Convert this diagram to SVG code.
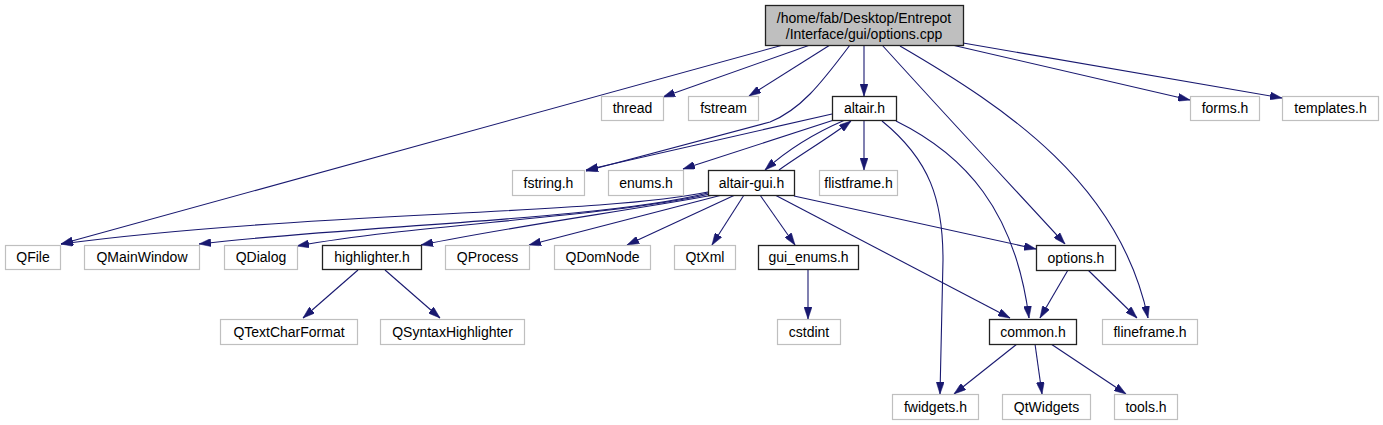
<svg xmlns="http://www.w3.org/2000/svg" width="1383" height="425" viewBox="0 0 1383 425">
<defs>
<marker id="ah" viewBox="0 0 12 8" refX="12" refY="4" markerWidth="12" markerHeight="8" markerUnits="userSpaceOnUse" orient="auto">
<path d="M0,0 L12,4 L0,8 z" fill="#191970" stroke="#191970" stroke-width="0.5"/>
</marker>
<style>
.e{fill:none;stroke:#191970;stroke-width:1.1;marker-end:url(#ah)}
.ext rect{fill:#fff;stroke:#bfbfbf;stroke-width:1.2}
.int rect{fill:#fff;stroke:#222;stroke-width:1.3}
.root rect{fill:#bfbfbf;stroke:#222;stroke-width:1.3}
text{font-family:"Liberation Sans",Arial,sans-serif;font-size:14px;fill:#000;text-anchor:middle}
</style>
</defs>
<rect width="1383" height="425" fill="#fff"/>
<g id="connectors">
<path class="e" d="M783,45 L61,244"/>
<path class="e" d="M810,45 L663,97"/>
<path class="e" d="M830,45 L749,96"/>
<path class="e" d="M850,45 C820,85 800,110 770,122 L586,171"/>
<path class="e" d="M864,45 L864,96"/>
<path class="e" d="M882,45 C950,120 1020,195 1065,244"/>
<path class="e" d="M900,46 C1010,110 1120,185 1148,318"/>
<path class="e" d="M952,45 L1190,100"/>
<path class="e" d="M963,43 L1282,98"/>
<path class="e" d="M832,114 L586,170"/>
<path class="e" d="M834,120 L683,169"/>
<path class="e" d="M845,120 C810,135 785,152 765,170"/>
<path class="e" d="M779,170 C800,155 830,137 851,121"/>
<path class="e" d="M864,120 L864,170"/>
<path class="e" d="M882,121 C930,160 943,200 943,260 L940,394"/>
<path class="e" d="M896,121 C965,155 1015,210 1029,318"/>
<path class="e" d="M708,192 C600,215 300,212 61,244"/>
<path class="e" d="M708,193 C600,220 350,226 199,244"/>
<path class="e" d="M710,194 C600,218 420,224 297,246"/>
<path class="e" d="M714,195 C620,212 520,225 421,245"/>
<path class="e" d="M722,195 L529,245"/>
<path class="e" d="M735,195 L627,245"/>
<path class="e" d="M744,195 L712,245"/>
<path class="e" d="M760,195 L795,245"/>
<path class="e" d="M794,196 L1036,249"/>
<path class="e" d="M775,195 L1010,318"/>
<path class="e" d="M358,270 L303,318"/>
<path class="e" d="M385,270 L440,318"/>
<path class="e" d="M808,270 L808,319"/>
<path class="e" d="M1068,270 L1040,318"/>
<path class="e" d="M1088,270 L1137,318"/>
<path class="e" d="M1017,344 L954,394"/>
<path class="e" d="M1035,344 L1042,394"/>
<path class="e" d="M1051,344 L1126,394"/>
</g>
<g id="n_root" class="root"><rect x="765.5" y="5.5" width="198" height="40"/><text x="864" y="22.5">/home/fab/Desktop/Entrepot</text><text x="864" y="38.5">/Interface/gui/options.cpp</text></g>
<g id="n_thread" class="ext"><rect x="601.5" y="96.5" width="62" height="24"/><text x="632.5" y="113">thread</text></g>
<g id="n_fstream" class="ext"><rect x="688.5" y="96.5" width="70" height="24"/><text x="723.5" y="113">fstream</text></g>
<g id="n_altair" class="int"><rect x="832.5" y="96.5" width="64" height="24"/><text x="864.5" y="113">altair.h</text></g>
<g id="n_forms" class="ext"><rect x="1190.5" y="96.5" width="69" height="24"/><text x="1225" y="113">forms.h</text></g>
<g id="n_templates" class="ext"><rect x="1282.5" y="96.5" width="96" height="24"/><text x="1330.5" y="113">templates.h</text></g>
<g id="n_fstring" class="ext"><rect x="512.5" y="170.5" width="72" height="25"/><text x="548.5" y="188">fstring.h</text></g>
<g id="n_enums" class="ext"><rect x="608.5" y="170.5" width="75" height="25"/><text x="646" y="188">enums.h</text></g>
<g id="n_altairgui" class="int"><rect x="708.5" y="170.5" width="86" height="25"/><text x="751.5" y="188">altair-gui.h</text></g>
<g id="n_flistframe" class="ext"><rect x="819.5" y="170.5" width="78" height="25"/><text x="858.5" y="188">flistframe.h</text></g>
<g id="n_QFile" class="ext"><rect x="5.5" y="245.5" width="55" height="24"/><text x="33" y="262">QFile</text></g>
<g id="n_QMainWindow" class="ext"><rect x="84.5" y="245.5" width="115" height="24"/><text x="142" y="262">QMainWindow</text></g>
<g id="n_QDialog" class="ext"><rect x="224.5" y="245.5" width="73" height="24"/><text x="261" y="262">QDialog</text></g>
<g id="n_highlighter" class="int"><rect x="322.5" y="245.5" width="99" height="24"/><text x="372" y="262">highlighter.h</text></g>
<g id="n_QProcess" class="ext"><rect x="445.5" y="245.5" width="84" height="24"/><text x="487.5" y="262">QProcess</text></g>
<g id="n_QDomNode" class="ext"><rect x="554.5" y="245.5" width="96" height="24"/><text x="602.5" y="262">QDomNode</text></g>
<g id="n_QtXml" class="ext"><rect x="674.5" y="245.5" width="61" height="24"/><text x="705" y="262">QtXml</text></g>
<g id="n_gui_enums" class="int"><rect x="758.5" y="245.5" width="100" height="24"/><text x="808.5" y="262">gui_enums.h</text></g>
<g id="n_options" class="int"><rect x="1036.5" y="245.5" width="79" height="25"/><text x="1076" y="262.5">options.h</text></g>
<g id="n_QTextCharFormat" class="ext"><rect x="220.5" y="319.5" width="137" height="25"/><text x="289" y="336.5">QTextCharFormat</text></g>
<g id="n_QSyntaxHighlighter" class="ext"><rect x="380.5" y="319.5" width="144" height="25"/><text x="452.5" y="336.5">QSyntaxHighlighter</text></g>
<g id="n_cstdint" class="ext"><rect x="777.5" y="319.5" width="63" height="25"/><text x="809" y="336.5">cstdint</text></g>
<g id="n_common" class="int"><rect x="989.5" y="319.5" width="87" height="25"/><text x="1033" y="336.5">common.h</text></g>
<g id="n_flineframe" class="ext"><rect x="1102.5" y="319.5" width="95" height="25"/><text x="1150" y="336.5">flineframe.h</text></g>
<g id="n_fwidgets" class="ext"><rect x="892.5" y="394.5" width="86" height="25"/><text x="935.5" y="411.5">fwidgets.h</text></g>
<g id="n_QtWidgets" class="ext"><rect x="1002.5" y="394.5" width="88" height="25"/><text x="1046.5" y="411.5">QtWidgets</text></g>
<g id="n_tools" class="ext"><rect x="1114.5" y="394.5" width="63" height="25"/><text x="1146" y="411.5">tools.h</text></g>
</svg>
